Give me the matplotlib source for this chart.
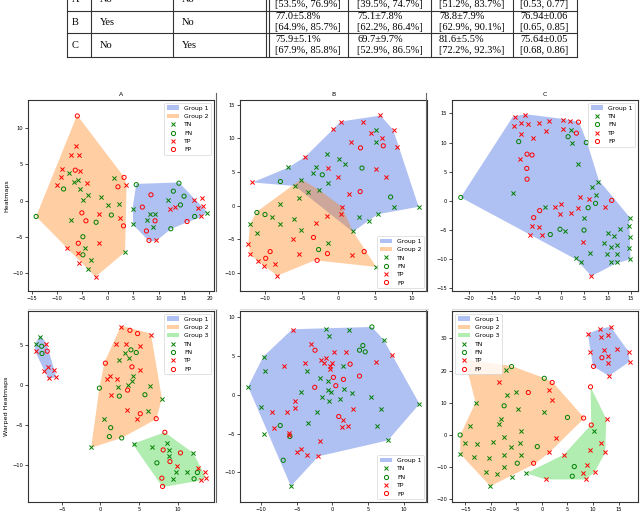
import matplotlib
matplotlib.use("Agg")
import matplotlib.pyplot as plt
from matplotlib.lines import Line2D
from matplotlib.patches import Patch

# ---------------- table data (partially visible) ----------------
table_rows = ["A", "B", "C"]
table_col2 = ["No", "Yes", "No"]
table_col3 = ["No", "No", "Yes"]
table_line1 = [["", "", "", ""],
               ["77.0±5.8%", "75.1±7.8%", "78.8±7.9%", "76.94±0.06"],
               ["75.9±5.1%", "69.7±9.7%", "81.6±5.5%", "75.64±0.05"]]
table_line2 = [["[53.5%, 76.9%]", "[39.5%, 74.7%]", "[51.2%, 83.7%]", "[0.53, 0.77]"],
               ["[64.9%, 85.7%]", "[62.2%, 86.4%]", "[62.9%, 90.1%]", "[0.65, 0.85]"],
               ["[67.9%, 85.8%]", "[52.9%, 86.5%]", "[72.2%, 92.3%]", "[0.68, 0.86]"]]

# ---------------- panel A (Heatmaps) ----------------
hA_TN = [(-7.6, 3.8), (-5.8, 2.9), (-6.6, 2.5), (-5.4, 1.6), (-3.8, 0.8), (-4.9, 0.1), (-1.3, 0.5),
         (-7.2, -2.7), (0.1, -0.6), (1.2, 3.1), (2.2, -0.5), (3.4, -7.1), (-4.5, -6.5), (-3.3, -8.2),
         (-3.8, -9.5), (11.8, 0.1), (4.9, -1.1), (19.6, -1.7), (8.4, -1.9), (9.3, -1.8), (7.8, -2.7),
         (8.9, -3.6), (5.0, -3.3)]
hA_FN = [(-8.7, 1.6), (-14.1, -2.2), (-2.3, -3.0), (0.7, -2.0), (-4.9, -5.0), (-4.9, -7.5), (5.6, 2.2),
         (14.0, 2.4), (12.9, 1.3), (15.0, 0.6), (14.3, -0.6), (12.4, -3.9), (17.1, -2.2)]
hA_TP = [(-6.2, 7.6), (-7.2, 6.3), (-5.6, 6.25), (-9.0, 4.4), (-5.5, 4.1), (-9.2, 3.2), (-4.1, 2.4),
         (-9.9, 2.1), (-1.8, -1.8), (3.5, 2.2), (2.5, -2.4), (-1.7, -5.9), (-8.0, -6.6), (-5.8, -7.2),
         (-5.6, -8.6), (-2.4, -10.5), (12.2, -1.2), (13.3, -0.9), (17.0, 0.1), (18.6, 0.4), (17.7, -1.0),
         (18.8, -0.8), (18.3, -2.2), (9.5, -5.5)]
hA_FP = [(-6.0, 11.7), (-6.4, 4.2), (-5.1, -1.7), (-4.3, -2.8), (2.0, 1.9), (3.2, 3.2), (3.1, -3.5),
         (-5.8, -5.9), (8.5, 0.8), (6.8, -0.9), (9.3, -2.8), (15.6, -2.9), (7.6, -4.2), (8.1, -5.5)]
hA_G1 = [(5.6, 2.3), (14.0, 2.5), (19.6, -1.6), (18.3, -2.3), (15.6, -3.0), (12.35, -3.95), (9.5, -5.6),
         (8.1, -5.6), (5.0, -3.35), (4.9, -1.0)]
hA_G2 = [(-6.04, 11.8), (3.15, 3.3), (3.7, 2.2), (3.4, -7.1), (-2.43, -10.55), (-14.1, -2.2)]

# ---------------- panel B (Heatmaps) ----------------
hB_TN = [(-6.8, 5.7), (-5.9, 2.9), (-4.2, 2.1), (-3.5, 4.8), (-3.0, 5.7), (-1.6, 7.7), (-1.4, 3.4),
         (0.05, 7.0), (0.9, 6.2), (5.1, 11.3), (5.1, 9.4), (7.6, -0.15), (10.9, -0.15), (5.4, -1.2),
         (4.1, -2.2), (2.8, -1.7), (2.0, -3.8), (-5.1, 3.8), (-2.6, 2.3), (-5.4, 1.1), (-7.95, 0.25),
         (-9.0, -1.6), (-12.05, -2.7), (-7.95, -2.7), (-6.1, -2.0), (-11.05, -4.0), (-5.1, -3.6),
         (-1.4, -5.5), (5.1, -9.1)]
hB_FN = [(-7.9, 3.6), (-2.2, 4.6), (3.2, 5.6), (7.1, 1.3), (-11.1, -1.0), (-10.0, -1.3), (-2.7, -6.5)]
hB_TP = [(-11.7, 3.5), (-4.5, 7.2), (-1.4, 5.6), (-0.7, 11.4), (0.3, 12.5), (0.0, 4.2), (1.7, 9.5),
         (1.5, 1.7), (3.3, 12.5), (4.4, 10.8), (5.7, 13.4), (5.9, 10.0), (5.1, 5.4), (6.5, 4.3),
         (7.5, 11.3), (7.9, 8.7), (0.45, -0.15), (0.4, -1.2), (-6.2, -5.0), (-3.0, -2.5), (-1.5, -1.5),
         (-12.3, -5.6), (-12.0, -7.2), (-10.9, -8.2), (-10.1, -8.9), (-8.7, -8.7), (-8.3, -10.4),
         (-5.4, -7.1), (1.8, -7.3)]
hB_FP = [(3.0, 8.6), (6.1, 8.9), (2.95, 2.1), (-3.4, -4.7), (-9.3, -6.8), (-9.9, -7.8), (-2.9, -8.1),
         (-1.5, -7.1), (3.5, -6.8)]
hB_G1 = [(-11.68, 3.47), (-6.77, 5.7), (-4.5, 7.29), (-0.73, 11.36), (0.27, 12.5), (5.73, 13.39),
         (7.45, 11.26), (10.91, -0.15), (5.41, -1.24), (4.14, -2.18), (1.95, -3.87), (-5.91, 2.93)]
hB_G2 = [(-5.09, 3.92), (-2.59, 2.33), (0.45, -0.15), (1.95, -3.77), (5.14, -9.08), (-3.18, -8.09),
         (-8.32, -10.37), (-10.09, -8.93), (-10.91, -8.23), (-12.0, -7.24), (-12.27, -5.6),
         (-12.05, -2.73), (-11.14, -0.89)]

# ---------------- panel C (Heatmaps) ----------------
hC_TN = [(2.1, 12.15), (2.4, 10.0), (3.6, 6.25), (8.0, 3.3), (6.65, 2.35), (7.45, 0.9), (-10.5, 1.4),
         (-3.5, -1.0), (4.8, -3.0), (0.8, -5.15), (10.0, -5.5), (11.3, -6.1), (12.6, -4.9), (14.6, -4.3),
         (14.8, -2.9), (14.9, -6.2), (9.25, -7.2), (10.7, -8.0), (12.0, -7.6), (14.6, -8.1), (9.9, -9.2),
         (12.0, -9.2), (14.9, -10.0), (6.3, -8.9), (3.25, -9.9), (4.3, -10.5), (10.7, -10.6), (12.0, -10.5)]
hC_FN = [(-9.25, 10.15), (1.45, 11.0), (5.4, 10.0), (-21.8, 0.57), (5.8, -1.2), (7.4, -0.45),
         (-2.4, -5.8), (-0.3, -4.9), (4.9, -5.05)]
hC_TP = [(-9.97, 14.45), (-7.8, 14.7), (-10.3, 12.9), (-8.74, 13.3), (-7.15, 13.25), (-4.84, 13.4),
         (-2.75, 13.7), (0.36, 13.9), (1.95, 13.65), (0.29, 12.3), (-3.4, 11.9), (-8.74, 11.5),
         (-6.14, 10.7), (-8.9, 7.1), (4.12, 0.7), (6.0, 0.3), (9.4, -1.15), (-1.37, -1.0), (0.0, -0.6),
         (3.6, -1.3), (2.0, -2.1), (-0.36, -2.3), (-6.3, -4.3), (-4.9, -4.5), (-4.2, -5.9), (-6.9, -5.9),
         (4.6, -7.05), (6.5, -12.9)]
hC_FP = [(3.7, 13.5), (3.25, 11.6), (-7.44, 8.0), (-6.36, 7.85), (-7.5, 5.55), (-7.44, 3.7),
         (10.9, 0.06), (-4.7, -1.7), (-6.0, -2.9)]
hC_G1 = [(-21.8, 0.57), (-10.5, 14.45), (-7.73, 14.85), (0.36, 14.05), (3.76, 13.6), (5.56, 10.0),
         (8.09, 3.55), (14.7, -2.75), (14.95, -10.05), (11.9, -10.75), (6.5, -12.95), (3.25, -10.1)]

# ---------------- panel A (Warped Heatmaps) ----------------
wA_TN = [(-7.78, 6.0), (-8.29, 5.08), (3.22, 4.04), (3.74, 3.33), (2.45, 3.08), (4.25, 1.08), (4.13, 0.5),
         (2.32, -0.29), (3.52, 0.0), (6.45, -0.13), (7.95, -1.75), (6.19, -3.25), (0.52, -4.25),
         (-1.16, -7.83), (4.3, -7.42), (6.66, -7.83), (8.6, -7.33), (8.89, -8.13), (8.89, -8.88),
         (12.03, -8.58), (9.76, -10.96), (11.17, -10.96), (9.37, -11.83)]
wA_FN = [(-7.6, 4.83), (-7.56, 3.92), (3.95, 4.38), (4.64, 4.04), (-0.13, -0.42), (2.45, -1.42),
         (5.76, -1.25), (1.33, -5.38), (1.16, -6.5), (2.75, -6.67), (7.31, -9.79), (12.55, -11.0),
         (12.12, -11.79)]
wA_TP = [(-7.09, 5.17), (-8.29, 4.21), (-6.79, 2.17), (-7.3, 1.67), (-6.06, 1.83), (-6.66, 0.88),
         (-5.8, 1.0), (2.71, 7.25), (6.53, 6.29), (2.02, 5.17), (3.31, 5.08), (5.16, 4.83), (5.11, 1.79),
         (1.25, 1.13), (0.82, 0.67), (2.11, 0.67), (1.38, -1.33), (3.48, -3.21), (4.73, -4.25),
         (9.88, -10.13), (12.64, -10.42), (13.5, -10.96), (13.62, -11.63), (12.98, -11.92)]
wA_FP = [(-6.88, 4.21), (3.82, 6.83), (4.81, 6.42), (0.64, 2.71), (4.08, 2.25), (3.52, -0.67),
         (5.16, -3.63), (7.22, -4.25), (8.34, -5.96), (8.12, -8.17), (10.36, -8.54), (9.0, -9.63),
         (7.95, -11.71), (8.04, -12.75)]
wA_G1 = [(-7.78, 6.15), (-7.0, 5.25), (-5.7, 0.95), (-6.75, 0.75), (-8.45, 4.2), (-8.45, 5.15)]
wA_G2 = [(2.66, 7.4), (6.53, 6.42), (7.95, -1.67), (7.26, -4.29), (2.79, -6.65), (-1.2, -7.9),
         (-0.13, -0.42), (0.52, 2.79)]
wA_G3 = [(4.17, -7.42), (8.34, -5.96), (12.03, -8.58), (13.62, -11.58), (12.98, -12.0), (8.04, -12.83)]

# ---------------- panel B (Warped Heatmaps) ----------------
wB_TN = [(-0.89, 8.4), (2.4, 8.32), (-0.42, 7.59), (7.2, 7.04), (-9.65, 4.78), (-9.51, 2.99), (1.55, 3.62),
         (-3.62, 2.99), (-1.69, 2.13), (-0.56, 1.71), (-4.42, 0.38), (1.69, 0.77), (-0.56, 0.6),
         (-0.19, 0.38), (-1.51, -0.34), (-0.42, -0.77), (1.13, -0.6), (2.82, 0.17), (5.36, -0.34),
         (6.82, -1.83), (-2.21, -2.26), (-10.07, -1.62), (-9.65, -5.12), (-3.39, -3.67), (6.26, -3.97),
         (7.81, -5.88), (12.24, -1.19), (-11.86, 1.02), (-5.84, -11.77)]
wB_FN = [(5.55, 8.7), (4.28, 6.31), (3.81, 5.71), (4.61, 5.5), (-7.34, -3.97), (-5.98, -5.37),
         (-6.92, -8.44)]
wB_TP = [(-5.6, 8.32), (-3.06, 6.48), (0.19, 5.54), (1.93, 5.54), (8.38, 5.12), (6.16, 4.14),
         (-6.78, 3.71), (-3.86, 4.09), (-1.6, 4.48), (-1.22, 4.01), (-0.89, 4.69), (-0.38, 3.71),
         (-0.28, 3.28), (-0.05, 4.05), (-5.27, -0.77), (-5.27, -1.75), (-8.56, -2.26), (-6.45, -2.26),
         (-8.24, -4.26), (-6.12, -4.9), (-6.12, -5.25), (-4.42, -6.95), (-4.99, -7.42), (-3.58, -7.8),
         (-1.98, -7.93), (-1.69, -5.97), (1.55, -3.2), (1.32, -4.18), (2.16, -3.97), (2.92, -1.83)]
wB_FP = [(-2.45, 5.71), (2.49, 3.92), (0.14, 2.22), (1.55, 1.96), (-2.49, 0.94), (0.47, 1.15),
         (3.81, 2.39), (0.89, -2.81)]
wB_G1 = [(-11.86, 1.02), (-9.74, 4.86), (-5.65, 8.4), (5.55, 8.7), (7.2, 7.04), (12.24, -1.19),
         (7.81, -5.88), (-1.98, -7.93), (-5.84, -11.77)]

# ---------------- panel C (Warped Heatmaps) ----------------
wC_TN = [(-7.1, 20.1), (-5.0, 13.2), (-6.85, 12.4), (-13.0, 9.9), (-4.7, 8.04), (0.33, 7.0), (-8.1, 5.05),
         (-8.5, 3.3), (-14.0, 2.9), (-4.0, 1.13), (-7.5, -0.72), (-15.1, -2.47), (-12.7, -2.8),
         (-9.6, -2.27), (-4.37, -2.47), (-6.13, -3.8), (-16.0, -5.9), (-13.3, -6.9), (-10.4, -7.2),
         (-7.5, -6.1), (-4.0, -6.1), (-7.44, -10.0), (-10.9, -11.5), (-8.74, -12.1), (-5.8, -12.9),
         (-10.1, -15.9), (10.1, 1.13), (-3.07, -11.75)]
wC_FN = [(-5.94, 21.24), (0.46, 17.6), (-7.4, 9.07), (5.0, 5.46), (-16.0, 0.0), (-0.91, -3.6),
         (-4.83, -8.76), (6.33, -9.8), (5.94, -12.8)]
wC_TP = [(9.0, 31.44), (11.28, 32.99), (13.44, 33.61), (11.6, 30.4), (13.0, 31.2), (9.46, 25.9),
         (12.1, 26.4), (14.7, 26.8), (16.96, 25.88), (13.0, 24.5), (17.16, 22.8), (13.0, 22.3),
         (13.11, 18.35), (-8.48, 16.5), (1.3, 14.0), (2.0, 10.9), (2.7, -1.03), (1.3, -5.15),
         (12.7, 4.95), (4.3, -6.08), (9.46, -4.64), (11.6, -2.58), (12.4, -5.36), (8.87, -9.18),
         (8.02, -11.75), (10.3, -11.55), (0.72, -13.8), (8.55, -13.8)]
wC_FP = [(11.74, 24.0), (10.1, 21.3), (2.0, 16.3), (-2.67, 13.2), (8.15, 5.26), (-1.63, -8.76),
         (9.52, 14.95), (9.65, 3.1)]
wC_G1 = [(9.0, 31.44), (11.42, 32.99), (13.44, 33.61), (16.96, 25.88), (17.16, 22.78), (13.11, 18.35),
         (9.98, 21.34)]
wC_G2 = [(-15.13, 23.5), (-6.0, 21.44), (0.52, 17.63), (2.15, 16.29), (8.3, 5.26), (1.3, -5.67),
         (-1.63, -9.18), (-10.11, -15.88), (-15.98, -5.88), (-15.98, 0.0), (-12.98, 10.1)]
wC_G3 = [(9.52, 14.95), (12.59, 4.95), (12.39, -5.36), (10.31, -11.55), (8.55, -13.8), (0.72, -13.8),
         (-3.07, -11.86), (4.31, -6.08), (9.65, 3.2)]

# axis ranges and ticks
lims = {
    "hA": ((-15.7, 20.9), (-12.5, 13.9)), "hB": ((-13.4, 12.05), (-12.65, 15.7)),
    "hC": ((-23.7, 16.6), (-15.5, 17.3)), "wA": ((-9.37, 14.7), (-14.7, 9.25)),
    "wB": ((-13.0, 13.3), (-13.8, 10.75)), "wC": ((-17.6, 18.8), (-20.8, 38.5)),
}
ticks = {
    "hA": ([-15, -10, -5, 0, 5, 10, 15, 20], [-10, -5, 0, 5, 10]),
    "hB": ([-10, -5, 0, 5, 10], [-10, -5, 0, 5, 10, 15]),
    "hC": ([-20, -15, -10, -5, 0, 5, 10, 15], [-15, -10, -5, 0, 5, 10, 15]),
    "wA": ([-5, 0, 5, 10], [-10, -5, 0, 5]),
    "wB": ([-10, -5, 0, 5, 10], [-10, -5, 0, 5, 10]),
    "wC": ([-15, -10, -5, 0, 5, 10, 15], [-20, -10, 0, 10, 20, 30]),
}

GROUP_COLORS = ["#4169e1", "#ff7f0e", "#32cd32"]
GROUP_ALPHA = [0.42, 0.38, 0.38]
W, H = 640, 511

fig = plt.figure(figsize=(6.4, 5.11), dpi=100)


def fx(px):
    return px / W


def fy(py):
    return 1 - py / H


def panel(rect, key, hulls, tn, fn, tp, fp, loc, title=None, ylabel=None):
    l, t, r, b = rect
    ax = fig.add_axes([fx(l), fy(b), fx(r - l), (b - t) / H])
    for i, h in enumerate(hulls):
        xs = [p[0] for p in h]
        ys = [p[1] for p in h]
        ax.fill(xs, ys, color=GROUP_COLORS[i], alpha=GROUP_ALPHA[i], lw=0)
    ms = 9
    for pts, mk, col in [(tn, "x", "green"), (fn, "o", "green"), (tp, "x", "red"), (fp, "o", "red")]:
        xs = [p[0] for p in pts]
        ys = [p[1] for p in pts]
        if mk == "x":
            ax.scatter(xs, ys, marker="x", s=ms, c=col, linewidths=0.7, zorder=3)
        else:
            ax.scatter(xs, ys, marker="o", s=ms, facecolors="none", edgecolors=col, linewidths=0.7, zorder=3)
    ax.set_xlim(*lims[key][0])
    ax.set_ylim(*lims[key][1])
    ax.set_xticks(ticks[key][0])
    ax.set_yticks(ticks[key][1])
    ax.tick_params(labelsize=3.7, length=2, width=0.5, pad=1.5)
    for s in ax.spines.values():
        s.set_linewidth(0.8)
        s.set_color("#333333")
    handles = [Patch(facecolor=GROUP_COLORS[i], alpha=GROUP_ALPHA[i], label=f"Group {i+1}")
               for i in range(len(hulls))]
    handles += [
        Line2D([], [], ls="none", marker="x", color="green", markersize=3, mew=0.7, label="TN"),
        Line2D([], [], ls="none", marker="o", mfc="none", mec="green", markersize=3, mew=0.7, label="FN"),
        Line2D([], [], ls="none", marker="x", color="red", markersize=3, mew=0.7, label="TP"),
        Line2D([], [], ls="none", marker="o", mfc="none", mec="red", markersize=3, mew=0.7, label="FP"),
    ]
    leg = ax.legend(handles=handles, loc=loc, fontsize=4.4, framealpha=0.8, borderpad=0.4,
                    handlelength=2.0, labelspacing=0.5)
    leg.get_frame().set_linewidth(0.5)
    if title:
        ax.set_title(title, fontsize=4.4, pad=3)
    if ylabel:
        ax.set_ylabel(ylabel, fontsize=4.6, labelpad=2)
    return ax


top, bot = (100, 291), (311, 502)
cols = [(28, 214), (240, 427), (452, 638)]

panel((cols[0][0], top[0], cols[0][1], top[1]), "hA", [hA_G1, hA_G2], hA_TN, hA_FN, hA_TP, hA_FP,
      "upper right", title="A", ylabel="Heatmaps")
panel((cols[1][0], top[0], cols[1][1], top[1]), "hB", [hB_G1, hB_G2], hB_TN, hB_FN, hB_TP, hB_FP,
      "lower right", title="B")
panel((cols[2][0], top[0], cols[2][1], top[1]), "hC", [hC_G1], hC_TN, hC_FN, hC_TP, hC_FP,
      "upper right", title="C")
panel((cols[0][0], bot[0], cols[0][1], bot[1]), "wA", [wA_G1, wA_G2, wA_G3], wA_TN, wA_FN, wA_TP, wA_FP,
      "upper right", ylabel="Warped Heatmaps")
panel((cols[1][0], bot[0], cols[1][1], bot[1]), "wB", [wB_G1], wB_TN, wB_FN, wB_TP, wB_FP,
      "lower right")
panel((cols[2][0], bot[0], cols[2][1], bot[1]), "wC", [wC_G1, wC_G2, wC_G3], wC_TN, wC_FN, wC_TP, wC_FP,
      "upper left")

# sub-figure borders
for x in (216, 426):
    for (y0, y1) in ((93, 291), (310, 502)):
        fig.add_artist(Line2D([fx(x), fx(x)], [fy(y0), fy(y1)], color="#666666", lw=0.8))
for (x0, x1) in ((28, 217), (240, 428), (452, 640)):
    fig.add_artist(Line2D([fx(x0), fx(x1)], [fy(309), fy(309)], color="#dddddd", lw=0.8))

# ---------------- table ----------------
serif = "Liberation Serif"
row_bounds = [-12, 11, 33.5, 57]
vlines = [67, 91, 173, 265.5, 268.5, 348, 431, 513, 577]
for x in vlines:
    fig.add_artist(Line2D([fx(x), fx(x)], [fy(-5), fy(57)], color="#333333", lw=0.8))
for y in row_bounds[1:]:
    fig.add_artist(Line2D([fx(67), fx(577)], [fy(y), fy(y)], color="#333333", lw=0.8))
val_x = [275, 357, 439, 520]
for i, rlab in enumerate(table_rows):
    y0, y1 = row_bounds[i], row_bounds[i + 1]
    yc = (y0 + y1) / 2
    fig.text(fx(72), fy(yc), rlab, fontsize=7.5, family=serif, va="center", ha="left")
    fig.text(fx(100), fy(yc), table_col2[i], fontsize=7.5, family=serif, va="center", ha="left")
    fig.text(fx(182), fy(yc), table_col3[i], fontsize=7.5, family=serif, va="center", ha="left")
    for j in range(4):
        if table_line1[i][j]:
            fig.text(fx(val_x[j]), fy(yc - 6), table_line1[i][j], fontsize=7.5, family=serif,
                     va="center", ha="left")
        fig.text(fx(val_x[j]), fy(yc + 5), table_line2[i][j], fontsize=7.5, family=serif,
                 va="center", ha="left")

fig.savefig("out.png", dpi=100)
